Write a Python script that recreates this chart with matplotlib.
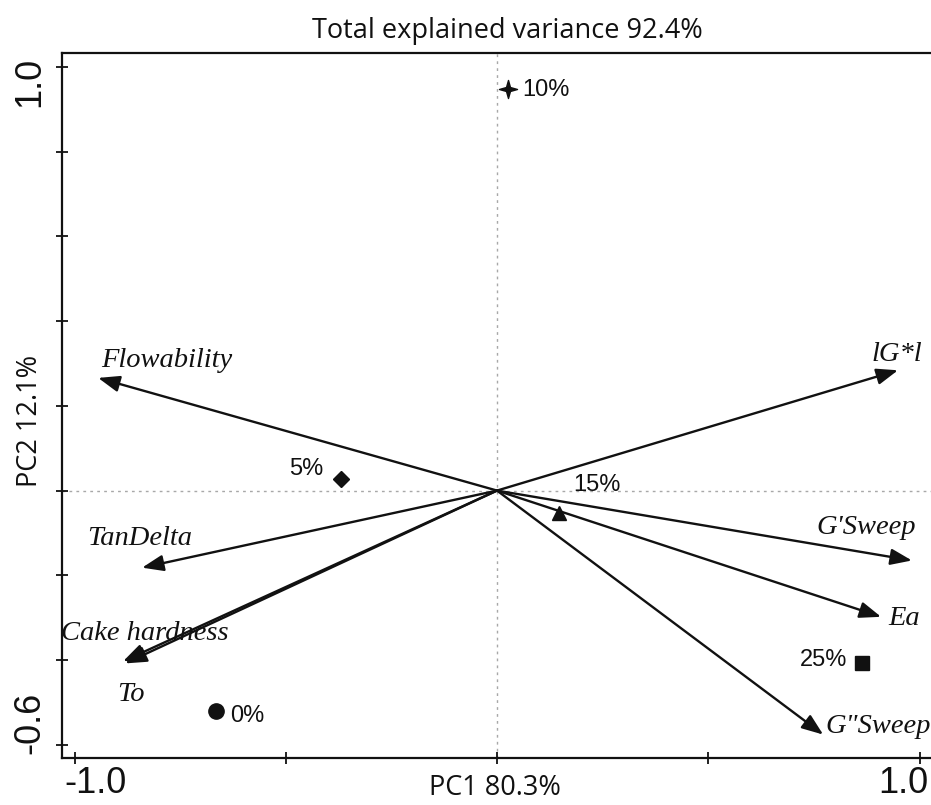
import matplotlib
matplotlib.use("Agg")
import matplotlib.pyplot as plt
from matplotlib.path import Path

# ---------------- data ----------------
variables = ['Flowability', 'lG*l', 'TanDelta', 'Cake hardness', 'To', "G'Sweep", 'Ea', 'G"Sweep']
pc1_load = [-0.944, 0.949, -0.840, -0.880, -0.885, 0.982, 0.909, 0.772]
pc2_load = [0.266, 0.284, -0.182, -0.408, -0.403, -0.165, -0.298, -0.576]

samples = ['0%', '5%', '10%', '15%', '25%']
pc1_score = [-0.665, -0.369, 0.026, 0.147, 0.864]
pc2_score = [-0.520, 0.028, 0.948, -0.053, -0.406]

title = 'Total explained variance 92.4%'
xlabel = 'PC1 80.3%'
ylabel = 'PC2 12.1%'
xtick_vals = [-1.0, -0.5, 0.0, 0.5, 1.0]
ytick_vals = [-0.6, -0.4, -0.2, 0.0, 0.2, 0.4, 0.6, 0.8, 1.0]

# ---------------- layout / style ----------------
W, H = 931, 805
fig = plt.figure(figsize=(W / 100, H / 100), dpi=100)
ax = fig.add_axes([62 / W, (H - 758) / H, 1 - 62 / W, (758 - 53) / H])
ax.set_xlim(-1.0296, 1.0272)
ax.set_ylim(-0.6313, 1.033)

ink = '#111111'
for s in ['left', 'bottom', 'top']:
    ax.spines[s].set_linewidth(1.6)
    ax.spines[s].set_color(ink)
ax.spines['right'].set_visible(False)

ax.set_xticks(xtick_vals)
ax.set_yticks(ytick_vals)
ax.tick_params(direction='inout', length=9, width=1.3, color=ink,
               labelbottom=False, labelleft=False)

ax.axhline(0, color='#a8a8a8', lw=1.0, ls=(0, (2, 3)), zorder=0)
ax.axvline(0, color='#a8a8a8', lw=1.0, ls=(0, (2, 3)), zorder=0)

# loading arrows
var_offsets = {  # label offset from arrow tip, pixels (dx, dy), ha
    'Flowability': (3, 17, 'left'),
    'lG*l': (-1, 16, 'center'),
    'TanDelta': (-2, 29, 'center'),
    'Cake hardness': (20, 30, 'center'),
    'To': (8, -33, 'center'),
    "G'Sweep": (-46, 33, 'center'),
    'Ea': (7, -2, 'left'),
    'G"Sweep': (2, 8, 'left'),
}
for name, x, y in zip(variables, pc1_load, pc2_load):
    ax.annotate('', xy=(x, y), xytext=(0, 0),
                arrowprops=dict(arrowstyle='-|>,head_length=1.0,head_width=0.38',
                                mutation_scale=13, lw=1.7, color=ink,
                                shrinkA=0, shrinkB=0))
    dx, dy, ha = var_offsets[name]
    ax.annotate(name, xy=(x, y), xytext=(dx, dy), textcoords='offset pixels',
                ha=ha, va='center', fontsize=20.5, style='italic',
                family='Liberation Serif', color=ink)

# sample scores
star = Path([(0, 1), (0.22, 0.22), (1, 0), (0.22, -0.22), (0, -1),
             (-0.22, -0.22), (-1, 0), (-0.22, 0.22), (0, 1)],
            [Path.MOVETO] + [Path.LINETO] * 7 + [Path.CLOSEPOLY])
sample_style = {  # marker, size, label offset (dx, dy) px, ha
    '0%': ('o', 11, (14, -5), 'left'),
    '5%': ('D', 8, (-18, 10), 'right'),
    '10%': (star, 13, (14, -1), 'left'),
    '15%': ('^', 10, (38, 28), 'center'),
    '25%': ('s', 10, (-15, 3), 'right'),
}
for name, x, y in zip(samples, pc1_score, pc2_score):
    m, ms, (dx, dy), ha = sample_style[name]
    ax.plot([x], [y], marker=m, ms=ms, color=ink, mec=ink, ls='none', zorder=5)
    ax.annotate(name, xy=(x, y), xytext=(dx, dy), textcoords='offset pixels',
                ha=ha, va='center', fontsize=17, family='Liberation Sans', color=ink)

# tick labels (drawn as text, only the end values)
bt = ax.get_xaxis_transform()
ax.text(-0.951, -0.049, '-1.0', transform=bt, ha='center', va='baseline',
        fontsize=26, family='Liberation Sans', color=ink)
ax.text(0.962, -0.049, '1.0', transform=bt, ha='center', va='baseline',
        fontsize=26, family='Liberation Sans', color=ink)
lt = ax.get_yaxis_transform()
ax.text(-0.0575, 1.0 - 15 / 423.75, '1.0', transform=lt, ha='left', va='center',
        rotation=90, fontsize=26, family='Liberation Sans', color=ink)
ax.text(-0.0575, -0.6 + 22 / 423.75, '-0.6', transform=lt, ha='left', va='center',
        rotation=90, fontsize=26, family='Liberation Sans', color=ink)

# axis labels and title
fig.text(495 / W, 1 - 795 / H, xlabel, ha='center', va='baseline',
         fontsize=19.5, family='Open Sans', color=ink)
fig.text(30 / W, 1 - 421 / H, ylabel, ha='center', va='center', rotation=90,
         fontsize=19.5, family='Open Sans', color=ink)
fig.text(507 / W, 1 - 38 / H, title, ha='center', va='baseline',
         fontsize=19.5, family='Open Sans', color=ink)

fig.savefig('out.png', dpi=100)
